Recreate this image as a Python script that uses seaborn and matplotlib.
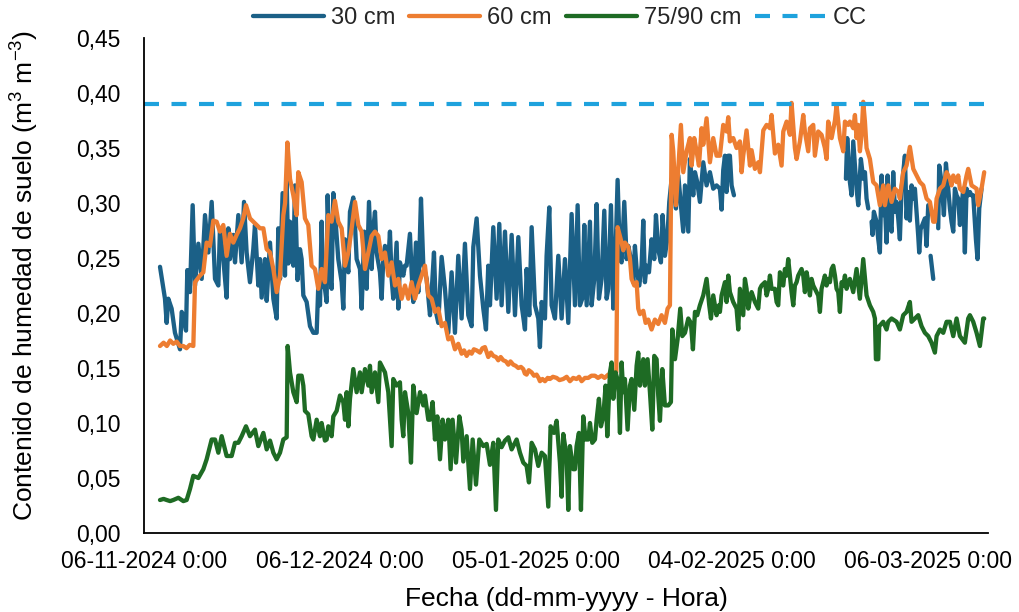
import numpy as np
import pandas as pd
import matplotlib
matplotlib.use("Agg")
import matplotlib.pyplot as plt
from matplotlib.lines import Line2D
import seaborn as sns

# Soil moisture readings: (days since 06-11-2024 0:00, m3 m-3). NaN marks missing data.
NAN = float("nan")

lecturas_30 = [
    (2.45, 0.242), (2.9, 0.225), (3.21, 0.213), (3.47, 0.191), (3.72, 0.213), (4.23, 0.204), (4.74, 0.182),
    (5.1, 0.175), (5.51, 0.167), (5.77, 0.201), (6.02, 0.198), (6.43, 0.184), (6.63, 0.239), (7.04, 0.219),
    (7.45, 0.298), (7.81, 0.225), (8.32, 0.263), (8.83, 0.231), (9.34, 0.289), (9.85, 0.255), (10.36, 0.301),
    (10.87, 0.231), (11.38, 0.225), (11.63, 0.277), (12.14, 0.249), (12.65, 0.214), (12.91, 0.277), (13.16, 0.249),
    (13.67, 0.271), (13.93, 0.246), (14.44, 0.289), (14.95, 0.246), (15.31, 0.301), (15.71, 0.255), (16.22, 0.228),
    (16.73, 0.258), (16.99, 0.280), (17.5, 0.225), (17.76, 0.249), (18.01, 0.214), (18.52, 0.249), (18.78, 0.211),
    (19.29, 0.264), (19.8, 0.213), (20.31, 0.195), (20.56, 0.277), (20.82, 0.231), (21.22, 0.309), (21.58, 0.234),
    (21.84, 0.320), (22.1, 0.245), (22.35, 0.283), (22.6, 0.255), (22.86, 0.243), (23.11, 0.316), (23.5, 0.230),
    (23.88, 0.258), (24.13, 0.249), (24.39, 0.216), (24.9, 0.210), (25.41, 0.188), (25.92, 0.182), (26.43, 0.182),
    (26.68, 0.225), (26.94, 0.207), (27.19, 0.283), (27.45, 0.225), (27.7, 0.222), (27.96, 0.210), (28.11, 0.307),
    (28.47, 0.234), (28.72, 0.222), (28.98, 0.309), (29.23, 0.292), (29.74, 0.249), (30.26, 0.228), (30.51, 0.204),
    (30.77, 0.267), (31.02, 0.249), (31.28, 0.237), (31.53, 0.292), (32.04, 0.305), (32.3, 0.280), (32.55, 0.249),
    (33.06, 0.240), (33.32, 0.204), (33.72, 0.274), (34.08, 0.222), (34.44, 0.301), (34.85, 0.240), (35.1, 0.277),
    (35.36, 0.292), (35.61, 0.255), (36.12, 0.237), (36.38, 0.213), (36.63, 0.249), (36.89, 0.261), (37.4, 0.246),
    (37.65, 0.274), (37.91, 0.231), (38.16, 0.213), (38.67, 0.264), (38.93, 0.204), (39.18, 0.246), (39.69, 0.234),
    (39.95, 0.243), (40.2, 0.243), (40.71, 0.272), (40.97, 0.237), (41.22, 0.210), (41.63, 0.264), (41.99, 0.219),
    (42.4, 0.304), (42.76, 0.243), (43.27, 0.231), (43.78, 0.198), (44.03, 0.219), (44.39, 0.255), (44.69, 0.201),
    (45.05, 0.191), (45.56, 0.251), (46.07, 0.222), (46.58, 0.182), (47.09, 0.237), (47.6, 0.182), (48.11, 0.252),
    (48.62, 0.195), (49.13, 0.263), (49.64, 0.198), (50.15, 0.188), (50.41, 0.260), (50.92, 0.286), (51.43, 0.234),
    (51.94, 0.204), (52.35, 0.185), (52.7, 0.243), (52.96, 0.207), (53.47, 0.278), (53.98, 0.213), (54.39, 0.281),
    (54.74, 0.207), (55.26, 0.274), (55.77, 0.201), (56.28, 0.271), (56.79, 0.198), (57.3, 0.269), (57.81, 0.207),
    (58.32, 0.185), (58.57, 0.240), (58.98, 0.198), (59.34, 0.278), (59.85, 0.207), (60.36, 0.195), (60.61, 0.169),
    (60.87, 0.210), (61.38, 0.195), (61.63, 0.252), (62.04, 0.296), (62.4, 0.207), (62.91, 0.195), (63.42, 0.252),
    (63.93, 0.195), (64.44, 0.249), (64.95, 0.191), (65.46, 0.290), (65.97, 0.207), (66.38, 0.298), (66.73, 0.207),
    (67.09, 0.213), (67.4, 0.280), (67.76, 0.207), (68.27, 0.283), (68.52, 0.207), (68.93, 0.231), (69.29, 0.299),
    (69.64, 0.213), (70.05, 0.231), (70.46, 0.293), (70.82, 0.213), (71.07, 0.222), (71.48, 0.298), (71.84, 0.204),
    (72.09, 0.234), (72.5, 0.321), (72.86, 0.249), (73.11, 0.246), (73.52, 0.301), (73.88, 0.249), (74.13, 0.261),
    (74.64, 0.246), (74.9, 0.228), (75.15, 0.261), (75.41, 0.240), (75.82, 0.225), (76.17, 0.243), (76.43, 0.284),
    (76.68, 0.228), (76.94, 0.243), (77.3, 0.237), (77.7, 0.267), (78.11, 0.249), (78.37, 0.289), (78.72, 0.258),
    (79.13, 0.246), (79.39, 0.289), (79.74, 0.252), (80.1, 0.267), (80.41, 0.301), (80.77, 0.322), (81.12, 0.310),
    (81.43, 0.295), (81.79, 0.325), (82.19, 0.298), (82.55, 0.274), (82.81, 0.316), (83.32, 0.274), (83.57, 0.340),
    (84.08, 0.307), (84.34, 0.328), (84.69, 0.319), (85.1, 0.301), (85.61, 0.337), (86.12, 0.316), (86.63, 0.328),
    (87.14, 0.313), (87.65, 0.316), (88.16, 0.313), (88.42, 0.294), (88.67, 0.330), (88.93, 0.343), (89.18, 0.310),
    (89.44, 0.343), (89.69, 0.343), (89.95, 0.316), (90.31, 0.307), (90.5, NAN),
    (107.45, 0.322), (107.65, 0.359), (108.06, 0.319), (108.32, 0.307), (108.57, 0.356), (109.08, 0.313),
    (109.34, 0.298), (109.74, 0.340), (110.1, 0.322), (110.36, 0.328), (110.61, 0.304), (110.87, 0.295), (111.1, NAN),
    (111.38, 0.283), (111.53, 0.271), (111.73, 0.292), (112.14, 0.283), (112.4, 0.267), (112.65, 0.255),
    (112.91, 0.325), (113.16, 0.289), (113.42, 0.298), (113.67, 0.264), (113.83, 0.325), (114.08, 0.289),
    (114.44, 0.274), (114.69, 0.328), (114.95, 0.292), (115.2, 0.301), (115.46, 0.286), (115.71, 0.267),
    (115.97, 0.313), (116.48, 0.343), (116.73, 0.286), (116.99, 0.310), (117.24, 0.284), (117.5, 0.316),
    (117.76, 0.304), (118.01, 0.313), (118.52, 0.270), (118.67, 0.255), (118.88, 0.276), (119.54, 0.286),
    (119.8, 0.261), (120.05, 0.298), (120.2, NAN), (120.41, 0.252), (120.82, 0.231), (121.2, NAN),
    (121.58, 0.277), (121.73, 0.334), (122.09, 0.319), (122.45, 0.289), (122.76, 0.336), (123.11, 0.313),
    (123.37, 0.295), (123.62, 0.283), (123.88, 0.274), (124.13, 0.313), (124.39, 0.307), (124.64, 0.304),
    (124.9, 0.280), (125.41, 0.313), (125.66, 0.255), (125.92, 0.313), (126.17, 0.307), (126.43, 0.310),
    (126.68, 0.307), (126.94, 0.307), (127.35, 0.267), (127.6, 0.249), (127.86, 0.295), (128.21, 0.313),
]

lecturas_60 = [
    (2.45, 0.170), (3.0, 0.173), (3.5, 0.170), (4.0, 0.175), (4.49, 0.172), (5.0, 0.174), (5.5, 0.170),
    (6.02, 0.170), (6.5, 0.168), (7.0, 0.171), (7.55, 0.170), (7.81, 0.228), (8.57, 0.234), (9.08, 0.237),
    (9.59, 0.264), (10.1, 0.261), (10.61, 0.284), (11.12, 0.283), (11.63, 0.274), (12.14, 0.280), (12.65, 0.252),
    (13.16, 0.272), (13.67, 0.264), (14.18, 0.271), (14.69, 0.277), (15.2, 0.286), (15.61, 0.298), (16.22, 0.286),
    (16.73, 0.283), (17.24, 0.280), (17.76, 0.277), (18.27, 0.277), (18.78, 0.258), (19.29, 0.255), (19.8, 0.240),
    (20.31, 0.219), (20.82, 0.234), (21.33, 0.289), (21.6, 0.300), (21.95, 0.355), (22.35, 0.322), (22.86, 0.307),
    (23.37, 0.289), (23.62, 0.328), (24.13, 0.319), (24.64, 0.286), (25.15, 0.280), (25.66, 0.243), (26.17, 0.240),
    (26.68, 0.222), (27.19, 0.240), (27.7, 0.228), (28.21, 0.289), (28.72, 0.283), (29.23, 0.302), (29.74, 0.283),
    (30.26, 0.277), (30.77, 0.243), (31.28, 0.255), (31.79, 0.277), (32.3, 0.301), (32.81, 0.280), (33.32, 0.274),
    (33.83, 0.240), (34.34, 0.255), (34.85, 0.270), (35.36, 0.274), (35.87, 0.270), (36.38, 0.249), (36.89, 0.255),
    (37.4, 0.234), (37.91, 0.246), (38.42, 0.225), (38.93, 0.231), (39.44, 0.213), (39.95, 0.225), (40.46, 0.213),
    (40.97, 0.228), (41.48, 0.213), (41.99, 0.225), (42.5, 0.234), (43.01, 0.243), (43.52, 0.216), (44.03, 0.213),
    (44.54, 0.201), (45.05, 0.204), (45.56, 0.188), (46.07, 0.191), (46.58, 0.176), (47.09, 0.178), (47.6, 0.167),
    (48.11, 0.172), (48.62, 0.163), (49.0, 0.166), (49.39, 0.161), (49.8, 0.165), (50.15, 0.163), (50.5, 0.167),
    (50.92, 0.166), (51.43, 0.164), (51.8, 0.168), (52.19, 0.169), (52.7, 0.160), (53.1, 0.164), (53.47, 0.161),
    (53.9, 0.160), (54.23, 0.157), (54.6, 0.160), (55.0, 0.157), (55.4, 0.156), (55.77, 0.153), (56.1, 0.156),
    (56.53, 0.153), (56.9, 0.152), (57.3, 0.150), (57.7, 0.151), (58.06, 0.149), (58.3, 0.145), (58.57, 0.144),
    (58.9, 0.148), (59.34, 0.146), (59.7, 0.143), (60.1, 0.144), (60.4, 0.141), (60.61, 0.138), (61.0, 0.140),
    (61.38, 0.138), (61.8, 0.141), (62.14, 0.140), (62.6, 0.142), (63.16, 0.141), (63.6, 0.139), (64.18, 0.140),
    (64.7, 0.142), (65.2, 0.138), (65.7, 0.141), (66.22, 0.140), (66.6, 0.142), (66.99, 0.138), (67.5, 0.141),
    (68.01, 0.141), (68.5, 0.143), (69.03, 0.143), (69.5, 0.141), (70.05, 0.143), (70.5, 0.141), (71.07, 0.144),
    (71.5, 0.143), (71.99, 0.146), (72.3, 0.146), (72.5, 0.278), (73.11, 0.264), (73.37, 0.257), (73.62, 0.264),
    (74.13, 0.260), (74.39, 0.249), (74.64, 0.231), (75.05, 0.225), (75.41, 0.228), (75.66, 0.204), (75.92, 0.199),
    (76.43, 0.202), (76.79, 0.191), (77.19, 0.194), (77.7, 0.185), (78.21, 0.194), (78.72, 0.190), (79.23, 0.198),
    (79.74, 0.191), (80.15, 0.204), (80.51, 0.207), (80.77, 0.362), (81.02, 0.347), (81.43, 0.298), (81.79, 0.331),
    (82.19, 0.371), (82.55, 0.328), (83.06, 0.347), (83.57, 0.359), (83.83, 0.334), (84.23, 0.359), (84.59, 0.347),
    (84.95, 0.334), (85.36, 0.368), (85.61, 0.353), (86.12, 0.377), (86.63, 0.337), (87.14, 0.359), (87.65, 0.343),
    (88.16, 0.343), (88.67, 0.371), (89.18, 0.365), (89.44, 0.378), (89.69, 0.356), (90.2, 0.359), (90.71, 0.350),
    (91.22, 0.356), (91.48, 0.328), (91.73, 0.343), (92.24, 0.366), (92.76, 0.334), (93.01, 0.348), (93.52, 0.331),
    (94.03, 0.337), (94.29, 0.328), (94.8, 0.366), (95.31, 0.371), (95.82, 0.368), (96.07, 0.380), (96.58, 0.345),
    (97.09, 0.353), (97.6, 0.334), (97.86, 0.365), (98.37, 0.374), (98.88, 0.362), (99.13, 0.391), (99.64, 0.350),
    (99.9, 0.340), (100.41, 0.356), (100.92, 0.380), (101.17, 0.365), (101.68, 0.347), (101.94, 0.368),
    (102.45, 0.371), (102.7, 0.343), (103.21, 0.365), (103.72, 0.362), (104.23, 0.350), (104.49, 0.340),
    (104.74, 0.374), (105.26, 0.359), (105.77, 0.375), (106.02, 0.389), (106.53, 0.359), (107.04, 0.347),
    (107.3, 0.374), (107.81, 0.371), (108.06, 0.374), (108.57, 0.368), (108.83, 0.380), (109.08, 0.359),
    (109.34, 0.371), (109.59, 0.347), (109.85, 0.362), (110.1, 0.392), (110.36, 0.374), (110.61, 0.350),
    (111.12, 0.340), (111.63, 0.319), (112.14, 0.316), (112.65, 0.298), (113.16, 0.316), (113.42, 0.298),
    (113.93, 0.316), (114.44, 0.301), (114.95, 0.313), (115.46, 0.310), (115.71, 0.304), (116.22, 0.328),
    (116.73, 0.334), (117.24, 0.351), (117.76, 0.331), (118.27, 0.325), (118.78, 0.319), (119.29, 0.316),
    (119.8, 0.304), (120.31, 0.301), (120.82, 0.283), (121.07, 0.283), (121.33, 0.304), (121.84, 0.313),
    (122.35, 0.316), (122.86, 0.328), (123.37, 0.322), (123.62, 0.316), (123.88, 0.325), (124.39, 0.319),
    (124.64, 0.325), (124.9, 0.313), (125.41, 0.310), (125.92, 0.325), (126.17, 0.331), (126.68, 0.316),
    (127.45, 0.313), (127.7, 0.298), (128.21, 0.313), (128.62, 0.328),
]

lecturas_90 = [
    (2.45, 0.030), (3.0, 0.031), (3.47, 0.030), (4.0, 0.029), (4.49, 0.030), (5.26, 0.032), (6.02, 0.029),
    (6.53, 0.030), (7.04, 0.040), (7.55, 0.052), (8.32, 0.050), (9.08, 0.058), (9.59, 0.067), (10.36, 0.085),
    (10.87, 0.085), (11.38, 0.073), (11.89, 0.088), (12.65, 0.070), (13.42, 0.070), (13.93, 0.082), (14.44, 0.082),
    (14.95, 0.088), (15.61, 0.097), (16.22, 0.088), (16.99, 0.094), (17.5, 0.079), (18.27, 0.091), (18.78, 0.076),
    (19.29, 0.084), (19.8, 0.073), (20.31, 0.067), (20.82, 0.073), (21.33, 0.085), (21.84, 0.087), (21.99, 0.170),
    (22.35, 0.146), (22.86, 0.128), (23.37, 0.119), (23.62, 0.143), (24.13, 0.143), (24.39, 0.134), (24.64, 0.111),
    (25.15, 0.108), (25.66, 0.088), (25.92, 0.085), (26.43, 0.103), (26.94, 0.088), (27.19, 0.100), (27.7, 0.084),
    (27.96, 0.085), (28.21, 0.097), (28.72, 0.088), (28.98, 0.106), (29.49, 0.111), (30.0, 0.125), (30.51, 0.119),
    (30.77, 0.103), (31.02, 0.128), (31.28, 0.097), (31.53, 0.122), (32.04, 0.149), (32.55, 0.128), (33.06, 0.146),
    (33.32, 0.128), (33.83, 0.149), (34.34, 0.134), (34.59, 0.152), (34.85, 0.128), (35.36, 0.146), (35.87, 0.119),
    (36.12, 0.155), (36.63, 0.149), (36.89, 0.146), (37.14, 0.137), (37.4, 0.128), (37.91, 0.079), (38.16, 0.140),
    (38.67, 0.134), (39.18, 0.137), (39.44, 0.103), (39.69, 0.088), (39.95, 0.128), (40.46, 0.109), (40.87, 0.064),
    (41.22, 0.134), (41.73, 0.109), (42.25, 0.128), (42.76, 0.116), (43.01, 0.125), (43.52, 0.103), (43.78, 0.103),
    (44.18, 0.119), (44.54, 0.085), (44.9, 0.106), (45.31, 0.067), (45.71, 0.103), (46.07, 0.085), (46.58, 0.103),
    (46.94, 0.058), (47.24, 0.103), (47.76, 0.064), (48.27, 0.106), (48.62, 0.094), (48.88, 0.065), (49.39, 0.088),
    (49.9, 0.040), (50.31, 0.085), (50.82, 0.044), (51.33, 0.085), (51.94, 0.079), (52.45, 0.081), (52.96, 0.062),
    (53.47, 0.082), (53.88, 0.021), (54.23, 0.085), (54.74, 0.078), (55.26, 0.084), (55.77, 0.087), (56.28, 0.076),
    (57.04, 0.085), (57.55, 0.073), (58.06, 0.064), (58.57, 0.061), (58.93, 0.046), (59.34, 0.082), (59.85, 0.076),
    (60.36, 0.061), (60.87, 0.073), (61.38, 0.070), (61.89, 0.024), (62.24, 0.097), (62.76, 0.091), (63.16, 0.102),
    (63.67, 0.064), (63.93, 0.033), (64.18, 0.090), (64.69, 0.070), (64.95, 0.021), (65.2, 0.079), (65.71, 0.058),
    (65.97, 0.058), (66.22, 0.079), (66.58, 0.091), (66.89, 0.021), (67.24, 0.106), (67.6, 0.085), (68.01, 0.085),
    (68.27, 0.100), (68.62, 0.082), (69.03, 0.085), (69.29, 0.103), (69.64, 0.122), (69.95, 0.097), (70.31, 0.106),
    (70.66, 0.134), (70.92, 0.088), (71.33, 0.146), (71.58, 0.155), (71.84, 0.122), (72.19, 0.146), (72.6, 0.137),
    (72.86, 0.091), (73.11, 0.155), (73.37, 0.128), (73.62, 0.140), (74.03, 0.094), (74.39, 0.134), (74.64, 0.140),
    (75.05, 0.112), (75.41, 0.152), (75.66, 0.164), (75.92, 0.134), (76.43, 0.158), (76.68, 0.134), (77.09, 0.158),
    (77.45, 0.128), (77.81, 0.094), (78.11, 0.161), (78.47, 0.158), (78.72, 0.125), (78.98, 0.102), (79.34, 0.149),
    (79.74, 0.116), (80.26, 0.116), (80.66, 0.119), (80.87, 0.185), (81.28, 0.158), (81.68, 0.176), (82.09, 0.204),
    (82.4, 0.179), (82.81, 0.182), (83.32, 0.195), (83.72, 0.191), (84.03, 0.167), (84.34, 0.201), (84.69, 0.198),
    (85.1, 0.207), (85.61, 0.216), (86.12, 0.231), (86.53, 0.207), (86.79, 0.195), (87.14, 0.216), (87.65, 0.198),
    (88.01, 0.207), (88.16, 0.201), (88.42, 0.216), (88.67, 0.222), (88.93, 0.228), (89.18, 0.210), (89.44, 0.234),
    (89.69, 0.219), (90.2, 0.210), (90.71, 0.204), (90.97, 0.185), (91.22, 0.222), (91.48, 0.210), (91.73, 0.198),
    (91.99, 0.231), (92.24, 0.222), (92.5, 0.204), (92.76, 0.213), (93.01, 0.219), (93.52, 0.210), (94.03, 0.204),
    (94.29, 0.222), (94.54, 0.225), (95.06, 0.228), (95.31, 0.216), (95.57, 0.222), (95.82, 0.234), (96.07, 0.222),
    (96.58, 0.222), (96.84, 0.210), (97.09, 0.207), (97.35, 0.237), (97.6, 0.231), (97.86, 0.225), (98.11, 0.240),
    (98.37, 0.234), (98.62, 0.249), (98.88, 0.234), (99.13, 0.219), (99.39, 0.207), (99.64, 0.225), (99.9, 0.228),
    (100.15, 0.234), (100.41, 0.237), (100.66, 0.240), (100.92, 0.234), (101.17, 0.219), (101.43, 0.237),
    (101.68, 0.228), (101.94, 0.216), (102.19, 0.231), (102.45, 0.225), (102.7, 0.222), (102.96, 0.219),
    (103.21, 0.216), (103.47, 0.201), (103.72, 0.222), (103.98, 0.228), (104.23, 0.234), (104.49, 0.225),
    (104.74, 0.231), (105.0, 0.228), (105.26, 0.240), (105.51, 0.243), (105.77, 0.234), (106.02, 0.222),
    (106.28, 0.219), (106.53, 0.201), (106.79, 0.228), (107.04, 0.225), (107.3, 0.234), (107.55, 0.222),
    (107.81, 0.228), (108.06, 0.231), (108.57, 0.219), (109.08, 0.240), (109.59, 0.213), (110.1, 0.249),
    (110.61, 0.216), (111.12, 0.207), (111.63, 0.201), (111.89, 0.195), (112.04, 0.158), (112.4, 0.158),
    (112.55, 0.188), (113.16, 0.192), (113.67, 0.185), (113.93, 0.192), (114.44, 0.195), (115.2, 0.192),
    (115.71, 0.185), (116.22, 0.198), (116.73, 0.201), (117.24, 0.210), (117.5, 0.192), (118.01, 0.195),
    (118.52, 0.198), (119.03, 0.188), (119.54, 0.182), (120.05, 0.179), (120.56, 0.173), (121.07, 0.164),
    (121.33, 0.179), (121.84, 0.185), (122.35, 0.182), (122.86, 0.192), (123.37, 0.192), (123.88, 0.179),
    (124.39, 0.195), (124.9, 0.179), (125.66, 0.173), (126.17, 0.195), (126.43, 0.198), (126.94, 0.192),
    (127.45, 0.182), (127.96, 0.170), (128.47, 0.195), (128.62, 0.195),
]

capacidad_campo = 0.39

series = ["30 cm", "60 cm", "75/90 cm"]
lecturas = {"30 cm": lecturas_30, "60 cm": lecturas_60, "75/90 cm": lecturas_90}
colores = {"30 cm": "#1b6087", "60 cm": "#ed7d31", "75/90 cm": "#1e6b24"}
color_cc = "#1ea2dd"

fechas_ticks = ["2024-11-06", "2024-12-06", "2025-01-05", "2025-02-04", "2025-03-06"]
etiquetas_ticks = ["06-11-2024 0:00", "06-12-2024 0:00", "05-01-2025 0:00",
                   "04-02-2025 0:00", "06-03-2025 0:00"]
valores_y = [0.00, 0.05, 0.10, 0.15, 0.20, 0.25, 0.30, 0.35, 0.40, 0.45]

inicio = pd.Timestamp("2024-11-06 00:00")
fin = inicio + pd.Timedelta(days=129.2)

# Long table; a new "tramo" starts after every gap so missing data is not bridged
tablas = []
for nombre in series:
    t = pd.DataFrame(lecturas[nombre], columns=["dias", "valor"])
    t["tramo"] = t["valor"].isna().cumsum()
    t = t.dropna()
    t["fecha"] = inicio + pd.to_timedelta(t["dias"], unit="D")
    t["serie"] = nombre
    tablas.append(t)
datos = pd.concat(tablas, ignore_index=True)

sns.set_theme(style="white")
plt.rcParams["font.family"] = ["Liberation Sans", "DejaVu Sans"]
plt.rcParams["mathtext.fontset"] = "custom"
plt.rcParams["mathtext.rm"] = "Liberation Sans"
plt.rcParams["mathtext.it"] = "Liberation Sans:italic"
plt.rcParams["mathtext.bf"] = "Liberation Sans:bold"

fig = plt.figure(figsize=(10.19, 6.12), dpi=100)
ax = fig.add_axes([144 / 1019, 1 - 533 / 612, 844 / 1019, 495 / 612])

lw = 3.1
for nombre in series:
    sns.lineplot(data=datos[datos["serie"] == nombre], x="fecha", y="valor",
                 units="tramo", estimator=None, sort=False, color=colores[nombre],
                 linewidth=lw, ax=ax, legend=False)

ax.axhline(capacidad_campo, color=color_cc, linewidth=3.0, dashes=(3.6, 3.0))

ax.set_xlim(inicio, fin)
ax.set_ylim(0, 0.45)
ax.set_xticks(pd.to_datetime(fechas_ticks))
ax.set_xticklabels(etiquetas_ticks)
ax.set_yticks(valores_y)
ax.set_yticklabels([f"{v:.2f}".replace(".", ",") for v in valores_y])

for lado in ["top", "right"]:
    ax.spines[lado].set_visible(False)
for lado in ["left", "bottom"]:
    ax.spines[lado].set_color("black")
    ax.spines[lado].set_linewidth(1.3)

ax.tick_params(axis="both", direction="inout", length=10, width=1.2, color="black",
               labelcolor="black", labelsize=16.5)
ax.tick_params(axis="x", pad=7.5)
ax.tick_params(axis="y", pad=12)

ax.set_xlabel("Fecha (dd-mm-yyyy - Hora)", fontsize=19, color="black")
ax.xaxis.set_label_coords(0.5, -0.11)
ax.set_ylabel("Contenido de humedad de suelo (m$^{3}$ m$^{-3}$)", fontsize=19, color="black")
ax.yaxis.set_label_coords(-0.122, 0.52)

manijas = [Line2D([], [], color=colores[n], linewidth=lw) for n in series]
manijas.append(Line2D([], [], color=color_cc, linewidth=3.0, dashes=(3.6, 3.0)))
fig.legend(manijas, series + ["CC"], loc="center", bbox_to_anchor=(560 / 1019, 1 - 18 / 612),
           ncol=4, frameon=False, fontsize=17, handlelength=3.0, handletextpad=0.3,
           columnspacing=0.6, borderaxespad=0, borderpad=0)

fig.savefig("out.png", dpi=100, facecolor="white")
